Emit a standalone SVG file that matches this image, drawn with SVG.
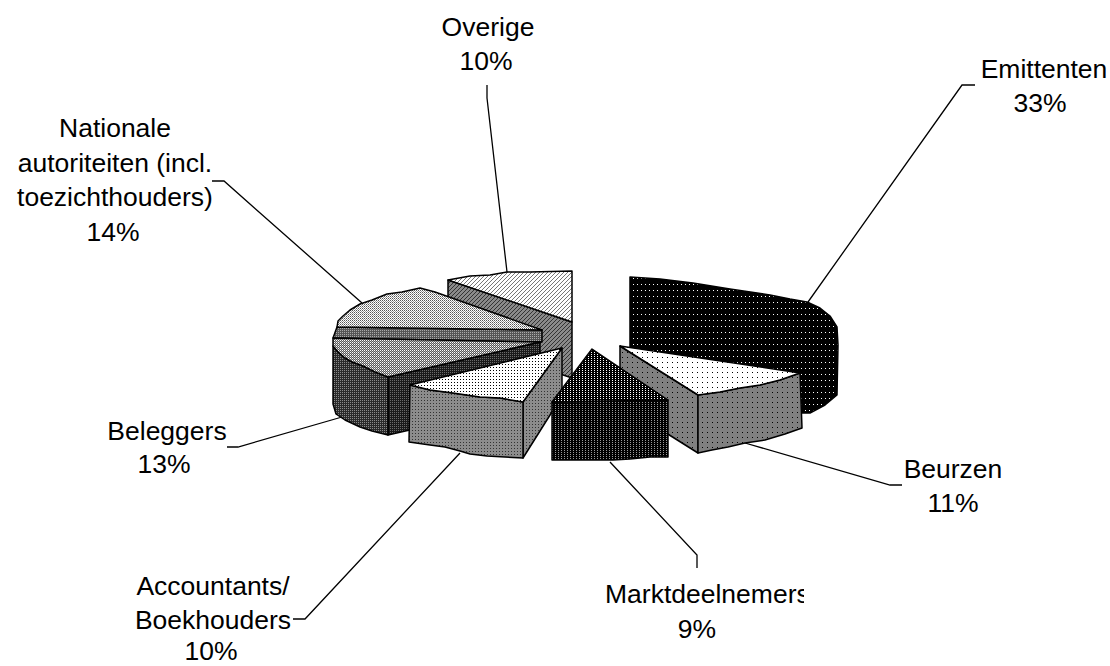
<svg xmlns="http://www.w3.org/2000/svg" width="1110" height="666" viewBox="0 0 1110 666">
<style>
.lbl{font-family:"Liberation Sans",Arial,sans-serif;font-size:26.5px;fill:#000;text-anchor:middle}
.face{stroke:#000;stroke-width:1.5;stroke-linejoin:round}
.lead{fill:none;stroke:#000;stroke-width:1.3}
</style>
<defs>
<pattern id="pEmit" width="4" height="6" patternUnits="userSpaceOnUse"><rect width="4" height="6" fill="#000"/><rect x="1" y="2" width="1" height="1" fill="#fff"/></pattern>
<pattern id="pWDots" width="5" height="5" patternUnits="userSpaceOnUse"><rect width="5" height="5" fill="#fff"/><rect x="2" y="2" width="1" height="1" fill="#000"/></pattern>
<pattern id="pGDots" width="5" height="5" patternUnits="userSpaceOnUse"><rect width="5" height="5" fill="#808080"/><rect x="2" y="2" width="1" height="1" fill="#000"/></pattern>
<pattern id="pAccTop" width="3" height="3" patternUnits="userSpaceOnUse"><rect width="3" height="3" fill="#fff"/><rect x="1" y="1" width="1" height="1" fill="#000"/></pattern>
<pattern id="pAccFront" width="3" height="3" patternUnits="userSpaceOnUse"><rect width="3" height="3" fill="#8c8c8c"/><rect x="1" y="1" width="1" height="1" fill="#333"/></pattern>
<pattern id="pMarktTop" width="3" height="2" patternUnits="userSpaceOnUse"><rect width="3" height="2" fill="#000"/><rect width="1" height="1" fill="#fff"/></pattern>
<pattern id="pMarktFront" width="3" height="2" patternUnits="userSpaceOnUse"><rect width="3" height="2" fill="#000"/><rect width="1" height="1" fill="#999"/></pattern>
<pattern id="pBelTop" width="2" height="2" patternUnits="userSpaceOnUse"><rect width="2" height="2" fill="#5a5a5a"/><rect width="1" height="1" fill="#fff"/><rect x="1" y="1" width="1" height="1" fill="#b0b0b0"/></pattern>
<pattern id="pBelLeft" width="2" height="2" patternUnits="userSpaceOnUse"><rect width="2" height="2" fill="#2a2a2a"/><rect width="1" height="1" fill="#8a8a8a"/></pattern>
<pattern id="pBelRight" width="2" height="2" patternUnits="userSpaceOnUse"><rect width="2" height="2" fill="#1a1a1a"/><rect width="1" height="1" fill="#6a6a6a"/></pattern>
<pattern id="pNatTop" width="2" height="2" patternUnits="userSpaceOnUse"><rect width="2" height="2" fill="#fff"/><rect width="1" height="1" fill="#555"/><rect x="1" y="1" width="1" height="1" fill="#999"/></pattern>
<pattern id="pNatSide" width="2" height="2" patternUnits="userSpaceOnUse"><rect width="2" height="2" fill="#555"/><rect width="1" height="1" fill="#aaa"/></pattern>
<pattern id="pOvTop" width="4" height="4" patternUnits="userSpaceOnUse"><rect width="4" height="4" fill="#fff"/><path d="M0,4 L4,0 M-1,1 L1,-1 M3,5 L5,3" stroke="#777" stroke-width="1"/></pattern>
<pattern id="pOvSide" width="4" height="4" patternUnits="userSpaceOnUse"><rect width="4" height="4" fill="#8a8a8a"/><path d="M0,4 L4,0 M-1,1 L1,-1 M3,5 L5,3" stroke="#333" stroke-width="1"/></pattern>
<clipPath id="cMarkt"><rect x="560" y="570" width="244" height="45"/></clipPath>
</defs>

<g id="connectors">
<polyline class="lead" points="487,85 487,98 507,272"/>
<polyline class="lead" points="975,85 962,85 808,302"/>
<polyline class="lead" points="212,181 224,181 362,303"/>
<polyline class="lead" points="902,485 890,485 745,443"/>
<polyline class="lead" points="697,568 697,555 610,462"/>
<polyline class="lead" points="227,447 238,447 342,417"/>
<polyline class="lead" points="293,619 305,619 460,453"/>
</g>

<g id="slice-overige">
<polygon class="face" fill="url(#pOvSide)" points="448,280 572,322 572,378 448,336"/>
<polygon class="face" fill="url(#pOvTop)" points="448,280 470,276 490,275 507,272 530,272 572,271 572,322"/>
</g>

<g id="slice-nationale">
<polygon class="face" fill="url(#pNatSide)" points="337,327 542,330 542,342 333,338"/>
<polygon class="face" fill="url(#pNatTop)" points="337,327 338,321 343,316 350,310 360,304 372,300 387,294 402,292 420,288 435,292 542,330"/>
</g>

<g id="slice-beleggers">
<polygon class="face" fill="url(#pBelRight)" points="388,377 540,342 540,400 388,435"/>
<polygon class="face" fill="url(#pBelLeft)" points="333,346 345,358 363,366 388,377 388,435 372,431 360,427 345,420 336,414 333,404"/>
<polygon class="face" fill="url(#pBelTop)" points="333,338 540,342 388,377 375,372 363,366 352,362 345,358 338,352 333,346"/>
</g>

<g id="slice-accountants">
<polygon class="face" fill="url(#pAccFront)" points="523,402 562,348 562,396 523,458"/>
<polygon class="face" fill="url(#pAccFront)" points="410,385 430,390 453,393 480,397 500,398 523,402 523,458 505,457 487,456 470,454 460,451 445,447 430,445 409,442"/>
<polygon class="face" fill="url(#pAccTop)" points="410,385 562,348 523,402 500,398 480,397 453,393 430,390"/>
</g>

<g id="slice-emittenten">
<polygon class="face" fill="url(#pEmit)" points="630,277 660,279 693,283 730,289 770,295 790,299 807,302 820,308 830,316 837,327 838,345 837,395 825,405 810,413 795,413 700,400 630,360"/>
</g>

<g id="slice-beurzen">
<polygon class="face" fill="url(#pGDots)" points="620,346 698,395 698,453 620,404"/>
<polygon class="face" fill="url(#pGDots)" points="698,395 720,392 740,388 760,385 780,380 800,373 802,428 785,434 765,440 745,443 728,447 712,450 698,453"/>
<polygon class="face" fill="url(#pWDots)" points="620,346 800,373 780,380 760,385 740,388 720,392 698,395"/>
</g>

<g id="slice-marktdeelnemers">
<polygon class="face" fill="url(#pMarktFront)" points="552,402 668,400 668,457 650,457 630,459 613,460 590,460 552,460"/>
<polygon class="face" fill="url(#pMarktTop)" points="592,349 668,400 552,402"/>
</g>

<g id="labels">
<text class="lbl" x="488" y="36">Overige</text>
<text class="lbl" x="486" y="70">10%</text>
<text class="lbl" x="1044" y="78">Emittenten</text>
<text class="lbl" x="1040" y="112">33%</text>
<text class="lbl" x="115" y="137">Nationale</text>
<text class="lbl" x="115" y="172">autoriteiten (incl.</text>
<text class="lbl" x="115" y="206">toezichthouders)</text>
<text class="lbl" x="113" y="241">14%</text>
<text class="lbl" x="953" y="478">Beurzen</text>
<text class="lbl" x="953" y="512">11%</text>
<text class="lbl" x="605" y="603" style="text-anchor:start" clip-path="url(#cMarkt)">Marktdeelnemers</text>
<text class="lbl" x="697" y="638">9%</text>
<text class="lbl" x="167" y="440">Beleggers</text>
<text class="lbl" x="164" y="473">13%</text>
<text class="lbl" x="213" y="595">Accountants/</text>
<text class="lbl" x="213" y="629">Boekhouders</text>
<text class="lbl" x="211" y="660">10%</text>
</g>
</svg>
